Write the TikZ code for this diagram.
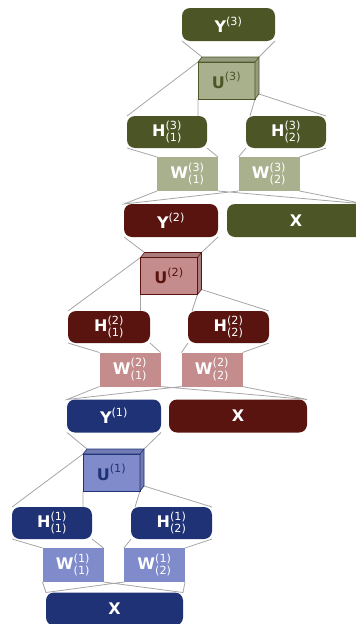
\documentclass[tikz,border=0pt]{standalone}
\usepackage{fontspec}
\setmainfont{DejaVu Sans}
\usepackage{amsmath}
\usetikzlibrary{backgrounds, calc}
\definecolor{dgreen}{HTML}{4C5526}
\definecolor{lgreen}{HTML}{A9B08E}
\definecolor{dred}{HTML}{5A1410}
\definecolor{lred}{HTML}{C48C8C}
\definecolor{dblue}{HTML}{1F3275}
\definecolor{lblue}{HTML}{7F8BCB}
\definecolor{wire}{HTML}{A6A6A6}

\tikzset{
block/.style = {%
    rounded corners=8pt, fill=#1, text=white,
    minimum height=33pt, inner sep=0pt, outer sep=0pt},
wbox/.style = {%
    fill=#1, text=white, minimum width=61pt,
    minimum height=34pt, inner sep=0pt, outer sep=0pt},
ubox/.style args = {#1 on #2}{%
    draw=#1, fill=#2, text=#1, line width=0.6pt,
    minimum width=57pt, minimum height=37pt,
    inner sep=0pt, outer sep=0pt},
wires/.style = {draw=wire, line width=0.8pt}
}
% bold tensor with upper and lower index
\newcommand{\tens}[3]{$\textbf{#1}^{\textnormal{(#2)}}_{\textnormal{(#3)}}$}
\newcommand{\tenu}[2]{$\textbf{#1}^{\textnormal{(#2)}}$}
% top and right faces of a cube node
\newcommand{\cubeside}[3]{%
    \filldraw[draw=#2, fill=#3, line width=0.6pt]
        (#1.north west) -- ++(4,-5) -| ($(#1.south east)+(4,-5)$)
        -- (#1.south east) -- (#1.north east) -- cycle;
    \draw[#2, line width=0.6pt] (#1.north east) -- ++(4,-5);
}

\begin{document}
\begin{tikzpicture}[x=1pt, y=-1pt, font=\fontsize{16}{18}\selectfont\bfseries]
    \useasboundingbox (0,0) rectangle (356,624);

    % Layer 3
    \node[block=dgreen, minimum width=93pt] (Y3) at (228.5,24.5) {\tenu{Y}{3}};
    \node[ubox=dgreen on lgreen] (U3) at (226.5,80.5) {\tenu{U}{3}};
    \cubeside{U3}{dgreen}{lgreen!88!black}
    \node[block=dgreen, minimum width=80pt, minimum height=32pt] (H31) at (167,132) {\tens{H}{3}{1}};
    \node[block=dgreen, minimum width=80pt, minimum height=32pt] (H32) at (286,132) {\tens{H}{3}{2}};
    \node[wbox=lgreen] (W31) at (187.5,174) {\tens{W}{3}{1}};
    \node[wbox=lgreen] (W32) at (269,174) {\tens{W}{3}{2}};
    \node[block=dred, minimum width=94pt] (Y2) at (171,220.5) {\tenu{Y}{2}};
    \node[block=dgreen, minimum width=138pt] (X3) at (296,220.5) {X};

    % Layer 2
    \node[ubox=dred on lred] (U2) at (169,276) {\tenu{U}{2}};
    \cubeside{U2}{dred}{lred!88!black}
    \node[block=dred, minimum width=82pt, minimum height=32pt] (H21) at (109,327) {\tens{H}{2}{1}};
    \node[block=dred, minimum width=81pt, minimum height=32pt] (H22) at (228.5,327) {\tens{H}{2}{2}};
    \node[wbox=lred] (W21) at (130,369.5) {\tens{W}{2}{1}};
    \node[wbox=lred] (W22) at (212,369.5) {\tens{W}{2}{2}};
    \node[block=dblue, minimum width=94pt] (Y1) at (114,416) {\tenu{Y}{1}};
    \node[block=dred, minimum width=138pt] (X2) at (238,416) {X};

    % Layer 1
    \node[ubox=dblue on lblue] (U1) at (111.5,472.5) {\tenu{U}{1}};
    \cubeside{U1}{dblue}{lblue!88!black}
    \node[block=dblue, minimum width=80pt, minimum height=32pt] (H11) at (52,523) {\tens{H}{1}{1}};
    \node[block=dblue, minimum width=81pt, minimum height=32pt] (H12) at (171.5,523) {\tens{H}{1}{2}};
    \node[wbox=lblue] (W11) at (73,565) {\tens{W}{1}{1}};
    \node[wbox=lblue] (W12) at (154.5,565) {\tens{W}{1}{2}};
    \node[block=dblue, minimum width=137pt] (X1) at (114.5,609) {X};

    % Projection lines behind the boxes
    \begin{scope}[on background layer]
        \path[wires] (Y3.south west) -- ($(U3.north west)+(4,-5)$)
            (Y3.south east) -- ($(U3.north east)+(4,-5)$);
        \path[wires] (Y2.south west) -- ($(U2.north west)+(4,-5)$)
            (Y2.south east) -- ($(U2.north east)+(4,-5)$);
        \path[wires] (Y1.south west) -- ($(U1.north west)+(4,-5)$)
            (Y1.south east) -- ($(U1.north east)+(4,-5)$);

        \path[wires] (U3.north west) -- (H31.north west)
            (U3.south west) -- (U3.south west |- H31.north)
            (U3.south east) -- ([xshift=4pt]H32.north west)
            ($(U3.south east)+(4,-5)$) -- (H32.north east);
        \path[wires] (U2.north west) -- (H21.north west)
            (U2.south west) -- (U2.south west |- H21.north)
            (U2.south east) -- ([xshift=4pt]H22.north west)
            ($(U2.south east)+(4,-5)$) -- (H22.north east);
        \path[wires] (U1.north west) -- (H11.north west)
            (U1.south west) -- (U1.south west |- H11.north)
            (U1.south east) -- ([xshift=4pt]H12.north west)
            ($(U1.south east)+(4,-5)$) -- (H12.north east);

        \path[wires] (H31.south west) -- (W31.north west) (H31.south east) -- (W31.north east)
            (H32.south west) -- (W32.north west) (H32.south east) -- (W32.north east);
        \path[wires] (H21.south west) -- (W21.north west) (H21.south east) -- (W21.north east)
            (H22.south west) -- (W22.north west) (H22.south east) -- (W22.north east);
        \path[wires] (H11.south west) -- (W11.north west) (H11.south east) -- (W11.north east)
            (H12.south west) -- (W12.north west) (H12.south east) -- (W12.north east);

        \path[wires] (W31.south west) -- (Y2.north west) -- (W32.south west)
            (W31.south east) -- (X3.north east) -- (W32.south east);
        \path[wires] (W21.south west) -- (Y1.north west) -- (W22.south west)
            (W21.south east) -- (X2.north east) -- (W22.south east);
        \path[wires] (W11.south west) -- (X1.north west) -- (W12.south west)
            (W11.south east) -- (X1.north east) -- (W12.south east);
    \end{scope}
\end{tikzpicture}
\end{document}
